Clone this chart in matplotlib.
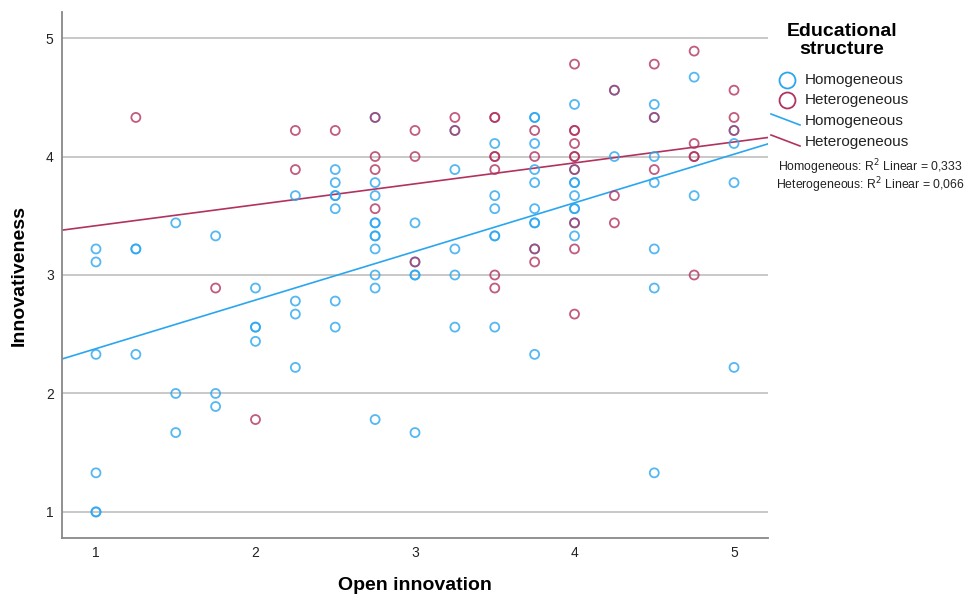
import numpy as np
import matplotlib
matplotlib.use("Agg")
import matplotlib.pyplot as plt
from matplotlib.lines import Line2D

plt.rcParams['font.family'] = ['Liberation Sans', 'DejaVu Sans']

# Homogeneous group (x = open innovation, y = innovativeness)
homo_x = [1, 1, 1, 1, 1, 1,
          1.25, 1.25, 1.25,
          1.5, 1.5, 1.5,
          1.75, 1.75, 1.75,
          2, 2, 2, 2,
          2.25, 2.25, 2.25, 2.25,
          2.5, 2.5, 2.5, 2.5, 2.5, 2.5, 2.5,
          2.75, 2.75, 2.75, 2.75, 2.75, 2.75, 2.75, 2.75, 2.75, 2.75, 2.75,
          3, 3, 3, 3, 3,
          3.25, 3.25, 3.25, 3.25, 3.25,
          3.5, 3.5, 3.5, 3.5, 3.5, 3.5,
          3.75, 3.75, 3.75, 3.75, 3.75, 3.75, 3.75, 3.75, 3.75, 3.75,
          4, 4, 4, 4, 4, 4, 4, 4, 4,
          4.25, 4.25,
          4.5, 4.5, 4.5, 4.5, 4.5, 4.5, 4.5,
          4.75, 4.75,
          5, 5, 5, 5]
homo_y = [3.22, 3.11, 2.33, 1.33, 1.0, 1.0,
          3.22, 3.22, 2.33,
          3.44, 2.0, 1.67,
          3.33, 2.0, 1.89,
          2.89, 2.56, 2.56, 2.44,
          3.67, 2.78, 2.67, 2.22,
          3.89, 3.78, 3.67, 3.67, 3.56, 2.78, 2.56,
          4.33, 3.78, 3.67, 3.44, 3.44, 3.33, 3.33, 3.22, 3.0, 2.89, 1.78,
          3.44, 3.11, 3.0, 3.0, 1.67,
          4.22, 3.89, 3.22, 3.0, 2.56,
          4.11, 3.67, 3.56, 3.33, 3.33, 2.56,
          4.33, 4.33, 4.11, 3.89, 3.78, 3.56, 3.44, 3.44, 3.22, 2.33,
          4.44, 3.89, 3.78, 3.78, 3.67, 3.56, 3.56, 3.44, 3.33,
          4.56, 4.0,
          4.44, 4.33, 4.0, 3.78, 3.22, 2.89, 1.33,
          4.67, 3.67,
          4.22, 4.11, 3.78, 2.22]

# Heterogeneous group
hetero_x = [1.25,
            1.75,
            2,
            2.25, 2.25,
            2.5,
            2.75, 2.75, 2.75, 2.75,
            3, 3, 3,
            3.25, 3.25,
            3.5, 3.5, 3.5, 3.5, 3.5, 3.5, 3.5,
            3.75, 3.75, 3.75, 3.75,
            4, 4, 4, 4, 4, 4, 4, 4, 4, 4,
            4.25, 4.25, 4.25,
            4.5, 4.5, 4.5,
            4.75, 4.75, 4.75, 4.75, 4.75,
            5, 5, 5]
hetero_y = [4.33,
            2.89,
            1.78,
            4.22, 3.89,
            4.22,
            4.33, 4.0, 3.89, 3.56,
            4.22, 4.0, 3.11,
            4.33, 4.22,
            4.33, 4.33, 4.0, 4.0, 3.89, 3.0, 2.89,
            4.22, 4.0, 3.22, 3.11,
            4.78, 4.22, 4.22, 4.11, 4.0, 4.0, 3.89, 3.44, 3.22, 2.67,
            4.56, 3.67, 3.44,
            4.78, 4.33, 3.89,
            4.89, 4.11, 4.0, 4.0, 3.0,
            4.56, 4.33, 4.22]

groups = ['Homogeneous', 'Heterogeneous']
r2_values = ['0,333', '0,066']
legend_title = ['Educational', 'structure']

blue = '#2aa6f0'
red = '#b2325f'

fig = plt.figure(figsize=(9.71, 6.0), dpi=100)
ax = fig.add_axes([62 / 971, 62 / 600, 706 / 971, 526 / 600])

xlim = (0.787, 5.213)
ax.set_xlim(*xlim)
ax.set_ylim(0.78, 5.22)

ax.scatter(homo_x, homo_y, s=42, facecolors='none', edgecolors=blue,
           linewidths=1.3, alpha=0.8, zorder=3)
ax.scatter(hetero_x, hetero_y, s=42, facecolors='none', edgecolors=red,
           linewidths=1.3, alpha=0.8, zorder=3)

# linear fit lines over the whole x range
xs = np.array(xlim)
for gx, gy, col in [(homo_x, homo_y, blue), (hetero_x, hetero_y, red)]:
    slope, icpt = np.polyfit(gx, gy, 1)
    ax.plot(xs, icpt + slope * xs, color=col, lw=1.2, zorder=2)

ax.set_xticks([1, 2, 3, 4, 5])
ax.set_yticks([1, 2, 3, 4, 5])
ax.tick_params(length=0, labelsize=10, colors='#222222')
ax.tick_params(axis='x', pad=6)
ax.tick_params(axis='y', pad=6)
ax.grid(axis='y', color='#c8c8c8', lw=1.4)
ax.set_axisbelow(True)
for side in ['top', 'right']:
    ax.spines[side].set_visible(False)
for side in ['left', 'bottom']:
    ax.spines[side].set_color('#888888')
    ax.spines[side].set_linewidth(1.3)

ax.set_xlabel('Open innovation', fontsize=14, fontweight='bold', labelpad=12)
ax.set_ylabel('Innovativeness', fontsize=14, fontweight='bold', labelpad=13)

# legend drawn by hand, SPSS style
for i, t in enumerate(legend_title):
    fig.text(842 / 971, 1 - (31 + 19 * i) / 600, t, ha='center', va='center',
             fontsize=14, fontweight='bold')
for i, (g, col) in enumerate(zip(groups, [blue, red])):
    yy = 1 - (80 + 20 * i) / 600
    fig.add_artist(Line2D([786.5 / 971], [yy], marker='o', markersize=11.5,
                          markerfacecolor='none', markeredgecolor=col, mew=1.3))
    fig.text(805 / 971, yy, g, va='center', fontsize=11, color='#222222')
for i, (g, col) in enumerate(zip(groups, [blue, red])):
    y0 = 1 - (114 + 21 * i) / 600
    y1 = 1 - (125 + 21 * i) / 600
    fig.add_artist(Line2D([771 / 971, 800 / 971], [y0, y1], color=col, lw=1.2))
    fig.text(805 / 971, 1 - (121 + 21 * i) / 600, g, va='center', fontsize=11, color='#222222')
for i, (g, r2) in enumerate(zip(groups, r2_values)):
    fig.text(870 / 971, 1 - (167 + 18 * i) / 600, f'{g}: R$^2$ Linear = {r2}',
             ha='center', va='center', fontsize=8.8, color='#222222')

fig.savefig('out.png', dpi=100)
